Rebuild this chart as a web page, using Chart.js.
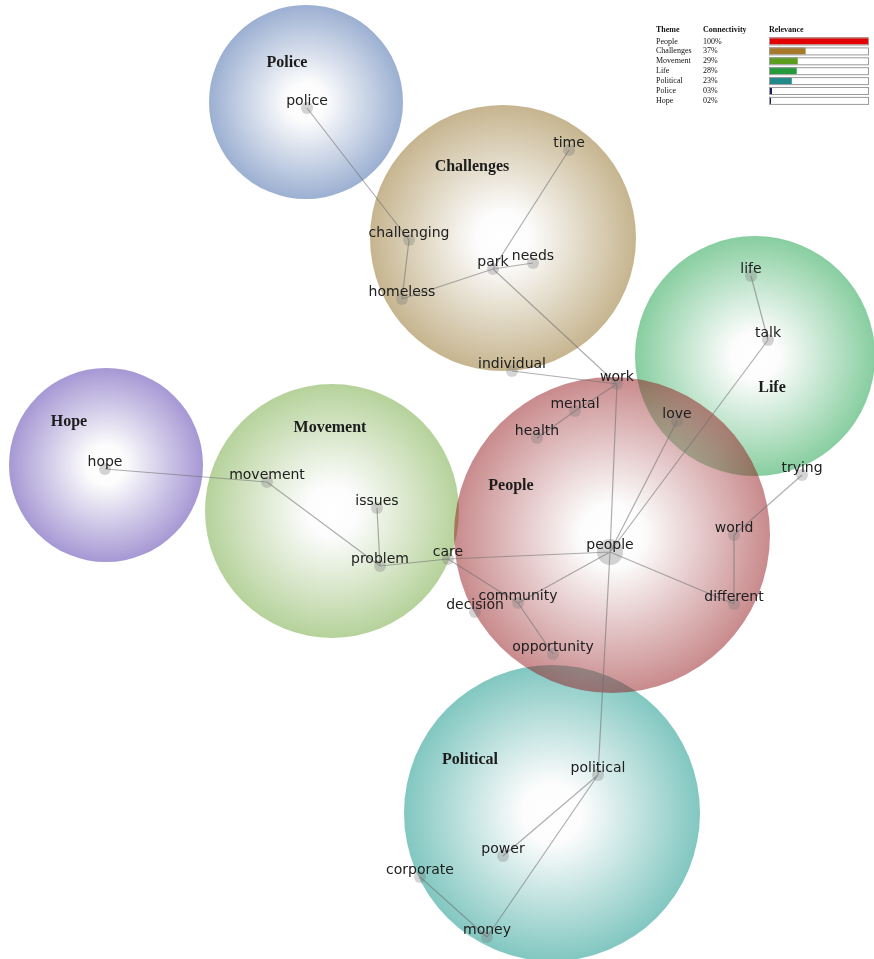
<!DOCTYPE html>
<html>
<head>
<meta charset="utf-8">
<script src="https://cdn.jsdelivr.net/npm/chart.js@4.4.1/dist/chart.umd.min.js"></script>
<style>
  html, body { margin: 0; padding: 0; background: #fff; }
  #wrap { width: 874px; height: 959px; }
</style>
</head>
<body>
<div id="wrap"><canvas id="map" width="874" height="959"></canvas></div>
<script>
// themes (map units), People last so it sits on top
const themeNames = ['Challenges', 'Movement', 'Life', 'Political', 'Police', 'Hope', 'People'];
const themeX = [503, 332, 755, 552, 306, 106, 612];
const themeY = [238, 511, 356, 813, 102, 465, 535];
const themeR = [133, 127, 120, 148, 97, 97, 158];
const themeLabelX = [472, 330, 772, 470, 287, 69, 511];
const themeLabelY = [167, 428, 388, 760, 63, 422, 486];

// concepts
const conceptNames = ['police', 'time', 'challenging', 'park', 'needs', 'homeless', 'individual', 'work',
  'mental', 'health', 'love', 'life', 'talk', 'trying', 'world', 'different', 'people', 'care',
  'community', 'decision', 'opportunity', 'hope', 'movement', 'issues', 'problem', 'political',
  'power', 'corporate', 'money'];
const conceptX = [307, 569, 409, 493, 533, 402, 512, 617, 575, 537, 677, 751, 768, 802, 734, 734, 610, 448,
  518, 475, 553, 105, 267, 377, 380, 598, 503, 420, 487];
const conceptY = [108, 150, 240, 269, 263, 299, 371, 384, 411, 438, 421, 276, 340, 475, 535, 604, 552, 559,
  603, 612, 654, 469, 482, 508, 566, 775, 856, 877, 937];

const links = [
  ['police', 'challenging'], ['challenging', 'homeless'], ['homeless', 'park'], ['park', 'needs'],
  ['park', 'time'], ['park', 'work'], ['individual', 'work'], ['work', 'mental'], ['mental', 'health'],
  ['work', 'people'], ['people', 'love'], ['people', 'talk'], ['talk', 'life'], ['people', 'different'],
  ['different', 'world'], ['world', 'trying'], ['people', 'care'], ['care', 'community'],
  ['people', 'community'], ['community', 'opportunity'], ['care', 'problem'], ['problem', 'issues'],
  ['problem', 'movement'], ['movement', 'hope'], ['people', 'political'], ['political', 'power'],
  ['political', 'money'], ['money', 'corporate']
];

// legend table
const legendThemes = ['People', 'Challenges', 'Movement', 'Life', 'Political', 'Police', 'Hope'];
const legendConnectivity = [100, 37, 29, 28, 23, 3, 2];

const themeColors = ['#c6b58f', '#b6d29b', '#88cea0', '#82c7c1', '#9cb0d2', '#a698d4', '#c98b8d'];
const barColors = ['#e30000', '#a7792a', '#5b9e1f', '#239b3c', '#21898a', '#101e5a', '#101e5a'];
const bubbleAlpha = 0.5;

let idx = {};
conceptNames.forEach((n, i) => idx[n] = i);

let linkData = [];
for (let l of links) {
  let a = idx[l[0]], b = idx[l[1]];
  linkData.push({x: conceptX[a], y: conceptY[a]});
  linkData.push({x: conceptX[b], y: conceptY[b]});
  linkData.push({x: null, y: null});
}

// colour that gives the wanted tint on white when painted at bubbleAlpha
function srcColor(hex) {
  let a = bubbleAlpha;
  let ch = [1, 3, 5].map(k => parseInt(hex.substr(k, 2), 16) / 255);
  let s = ch.map(v => Math.round(Math.max(0, (v - (1 - a)) / a) * 255));
  return 'rgba(' + s.join(',') + ',' + a + ')';
}

function bubbleFill(c) {
  let chart = c.chart;
  let i = c.dataIndex;
  if (!chart.chartArea || i === undefined) return themeColors[0];
  let px = chart.scales.x.getPixelForValue(themeX[i]);
  let py = chart.scales.y.getPixelForValue(themeY[i]);
  let g = chart.ctx.createRadialGradient(px, py, 0, px, py, themeR[i]);
  g.addColorStop(0, 'rgba(255,255,255,' + bubbleAlpha + ')');
  g.addColorStop(0.2, 'rgba(250,250,250,' + bubbleAlpha + ')');
  g.addColorStop(1, srcColor(themeColors[i]));
  return g;
}

const labels = {
  id: 'labels',
  afterDatasetsDraw(chart) {
    let ctx = chart.ctx, sx = chart.scales.x, sy = chart.scales.y;
    ctx.save();
    ctx.textAlign = 'center';
    ctx.textBaseline = 'middle';
    ctx.fillStyle = '#1c1c1c';
    ctx.font = 'bold 16px "Liberation Serif", serif';
    themeNames.forEach((n, i) => {
      ctx.fillText(n, sx.getPixelForValue(themeLabelX[i]), sy.getPixelForValue(themeLabelY[i]));
    });
    ctx.font = '14px "DejaVu Sans", sans-serif';
    ctx.fillStyle = '#202020';
    conceptNames.forEach((n, i) => {
      ctx.fillText(n, sx.getPixelForValue(conceptX[i]), sy.getPixelForValue(conceptY[i]) - 7);
    });
    ctx.restore();
  }
};

const table = {
  id: 'table',
  afterDraw(chart) {
    let ctx = chart.ctx;
    ctx.save();
    ctx.textBaseline = 'middle';
    ctx.textAlign = 'left';
    ctx.fillStyle = '#111';
    ctx.font = 'bold 8px "Liberation Serif", serif';
    ctx.fillText('Theme', 656, 30);
    ctx.fillText('Connectivity', 703, 30);
    ctx.fillText('Relevance', 769, 30);
    ctx.font = '8px "Liberation Serif", serif';
    legendThemes.forEach((n, i) => {
      let y = 41.5 + i * 9.9;
      ctx.fillStyle = '#111';
      ctx.fillText(n, 656, y);
      let v = legendConnectivity[i];
      ctx.fillText((v < 10 ? '0' + v : v) + '%', 703, y);
      let w = 99;
      ctx.fillStyle = '#fff';
      ctx.fillRect(769, y - 4, w, 7);
      ctx.fillStyle = barColors[i];
      ctx.fillRect(769, y - 4, Math.max(2, w * v / 100), 7);
      ctx.strokeStyle = '#9a9a9a';
      ctx.lineWidth = 1;
      ctx.strokeRect(769.5, y - 3.5, w, 7);
    });
    ctx.restore();
  }
};

new Chart(document.getElementById('map'), {
  type: 'scatter',
  data: {
    datasets: [
      {
        type: 'bubble',
        data: themeNames.map((n, i) => ({x: themeX[i], y: themeY[i], r: themeR[i]})),
        backgroundColor: bubbleFill,
        borderWidth: 0,
        clip: false,
        order: 3
      },
      {
        type: 'line',
        data: linkData,
        spanGaps: false,
        borderColor: 'rgba(110,110,110,0.55)',
        borderWidth: 1.2,
        pointRadius: 0,
        fill: false,
        order: 2
      },
      {
        type: 'scatter',
        data: conceptNames.map((n, i) => ({x: conceptX[i], y: conceptY[i]})),
        pointRadius: c => conceptNames[c.dataIndex] === 'people' ? 13 : 6,
        backgroundColor: 'rgba(120,120,120,0.32)',
        borderWidth: 0,
        order: 1
      }
    ]
  },
  options: {
    responsive: false,
    animation: false,
    events: [],
    layout: { padding: 0, autoPadding: false },
    scales: {
      x: { type: 'linear', min: 0, max: 874, display: false },
      y: { type: 'linear', min: 0, max: 959, reverse: true, display: false }
    },
    plugins: {
      legend: { display: false },
      tooltip: { enabled: false }
    }
  },
  plugins: [labels, table]
});
</script>
</body>
</html>
